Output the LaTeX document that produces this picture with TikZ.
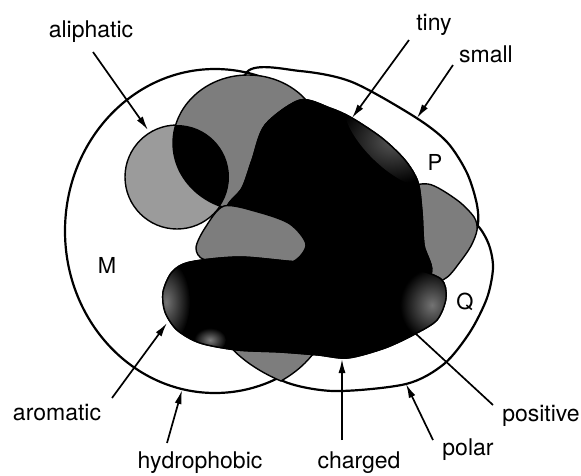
\documentclass[tikz,border=0pt]{standalone}
\usepackage{fontspec}
\setmainfont{TeX Gyre Heros}
\usetikzlibrary{arrows.meta}
\definecolor{blobgray}{RGB}{125,125,125}
\definecolor{aligray}{RGB}{155,155,155}
\definecolor{rimgray}{RGB}{85,85,85}
\definecolor{spotgray}{RGB}{115,115,115}

\newcommand{\hydset}{(215,231) ellipse [x radius=150, y radius=162]}
\newcommand{\smallset}{plot[smooth cycle] coordinates {(247,72) (300,71) (352,82) (415,117) (447,142) (467,173) (477,205) (477,228) (462,248) (430,258) (370,262) (300,250) (255,205) (240,140)}}
\newcommand{\polarset}{plot[smooth cycle] coordinates {(281,380) (333,391) (406,384) (444,364) (470,332) (487,298) (493,268) (489,245) (478,226) (458,213) (420,215) (330,212) (270,255) (255,310) (262,352)}}
\newcommand{\aliphset}{(177,177) circle [radius=52]}
\newcommand{\hydsmall}{(248,143) ellipse [x radius=75, y radius=68]}
\newcommand{\posset}{plot[smooth cycle] coordinates {(405,195) (428,184) (457,200) (474,217) (477,230) (471,246) (460,262) (446,278) (420,288) (405,260)}}
\newcommand{\tinyset}{plot[smooth cycle] coordinates {(300,100) (330,108) (352,118) (382,138) (405,160) (418,182) (422,212) (424,245) (430,275) (380,292) (300,285) (250,262) (232,232) (227,207) (242,188) (252,160) (265,125)}}
\newcommand{\midlobe}{plot[smooth cycle] coordinates {(224,206) (258,212) (290,224) (306,245) (290,263) (245,264) (205,260) (196,248) (205,228)}}
\newcommand{\botlobe}{(222,336) .. controls (236,358) and (262,373) .. (281,381) .. controls (293,374) and (311,362) .. (323,338) -- cycle}
\newcommand{\chargeset}{plot[smooth cycle] coordinates {(163,292) (172,272) (190,262) (240,257) (300,262) (360,262) (410,268) (441,279) (446,298) (437,320) (415,334) (385,348) (348,358) (318,355) (280,352) (237,350) (200,343) (177,330) (165,312)}}

\begin{document}
\begin{tikzpicture}[
    x=1pt, y=-1pt,
    >={Latex[length=14pt,width=7pt]},
    setline/.style={line width=2.2pt},
    lobe/.style={draw=black, line width=1.4pt, fill=blobgray},
    dark/.style={draw=black, line width=1.4pt, fill=black},
    speckle/.style={inner color=#1, outer color=black},
    pointer/.style={->, line width=1.7pt},
    setname/.style={font=\fontsize{23}{26}\selectfont, anchor=base, inner sep=0pt},
    regname/.style={font=\fontsize{22}{26}\selectfont, inner sep=0pt},
]
\useasboundingbox (0,0) rectangle (581,475);

\draw[setline] \hydset;
\draw[setline] \smallset;
\draw[setline] \polarset;

\draw[lobe, fill=aligray] \aliphset;
\draw[lobe] \hydsmall;
\begin{scope}
  \clip \aliphset;
  \fill \hydsmall;
\end{scope}

\draw[lobe] \posset;
\draw[dark] \tinyset;
\begin{scope}
  \clip \tinyset;
  \shade[speckle=rimgray, rotate around={-44:(392,141)}] (392,141) ellipse [x radius=62, y radius=26];
\end{scope}
\draw[line width=1.4pt] \tinyset;

\draw[lobe] \midlobe;
\draw[lobe] \botlobe;
\draw[dark] \chargeset;
\begin{scope}
  \clip \chargeset;
  \shade[speckle=spotgray] (166,302) ellipse [x radius=24, y radius=42];
  \shade[speckle=blobgray] (210,340) ellipse [x radius=16, y radius=12];
  \shade[speckle=spotgray] (432,305) ellipse [x radius=32, y radius=36];
\end{scope}
\draw[line width=1.4pt] \chargeset;

\node[regname] (M) at (107,265) {M};
\node[regname] (P) at (435,162) {P};
\node[regname] (Q) at (465,302) {Q};

\node[setname] (aliphatic) at (91,37) {aliphatic};
\node[setname] (tiny) at (434,30) {tiny};
\node[setname] (small) at (486,62) {small};
\node[setname] (aromatic) at (57,420) {aromatic};
\node[setname] (positive) at (541,421) {positive};
\node[setname] (polar) at (468,455) {polar};
\node[setname] (hydrophobic) at (200,468) {hydrophobic};
\node[setname] (charged) at (359,468) {charged};

\coordinate (aliEnd) at (93,52);
\coordinate (aliTip) at (148,130);
\coordinate (tinyEnd) at (409,40);
\coordinate (tinyTip) at (352,118);
\coordinate (smallEnd) at (453,65);
\coordinate (smallTip) at (417,118);
\coordinate (aroEnd) at (112,398);
\coordinate (aroTip) at (167,323);
\coordinate (hydEnd) at (167,443);
\coordinate (hydTip) at (182,390);
\coordinate (chgEnd) at (342,440);
\coordinate (chgTip) at (342,359);
\coordinate (polEnd) at (433,440);
\coordinate (polTip) at (406,384);
\coordinate (posEnd) at (493,405);
\coordinate (posTip) at (415,333);

\draw[pointer] (aliEnd) -- (aliTip);
\draw[pointer] (tinyEnd) -- (tinyTip);
\draw[pointer] (smallEnd) -- (smallTip);
\draw[pointer] (aroEnd) -- (aroTip);
\draw[pointer] (hydEnd) -- (hydTip);
\draw[pointer] (chgEnd) -- (chgTip);
\draw[pointer] (polEnd) -- (polTip);
\draw[line width=1.7pt] (posEnd) -- (posTip);
\end{tikzpicture}
\end{document}
